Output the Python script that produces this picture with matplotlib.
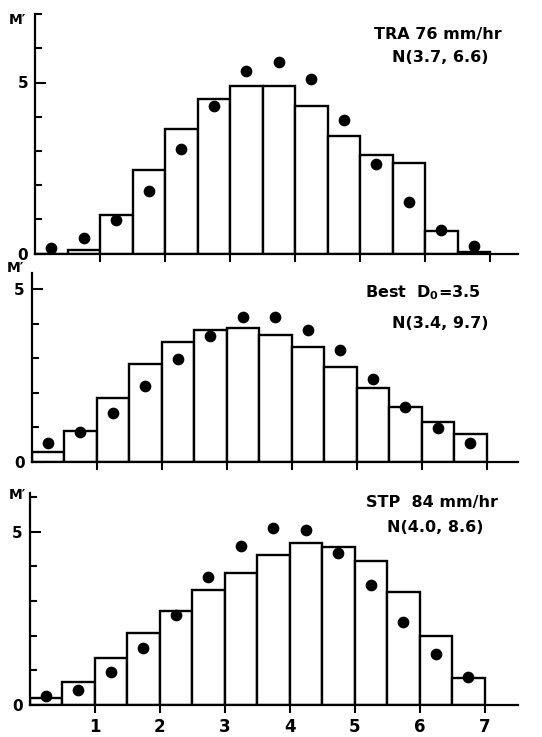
import matplotlib
matplotlib.use('Agg')
import matplotlib.pyplot as plt
import numpy as np

# bin edges (drop diameter, mm) and values
bin_left = np.arange(0, 7, 0.5)
bin_mid = bin_left + 0.25

# TRA 76 mm/hr
tra_bars = [0.0, 0.10, 1.14, 2.45, 3.64, 4.52, 4.91, 4.91, 4.30, 3.45, 2.88, 2.65, 0.67, 0.04]
tra_dots = [0.17, 0.44, 0.97, 1.84, 3.05, 4.32, 5.35, 5.61, 5.11, 3.91, 2.61, 1.52, 0.70, 0.21]

# Best D0 = 3.5
best_bars = [0.27, 0.90, 1.84, 2.83, 3.48, 3.82, 3.87, 3.68, 3.32, 2.74, 2.13, 1.60, 1.16, 0.79]
best_dots = [0.53, 0.85, 1.42, 2.18, 2.98, 3.63, 4.18, 4.19, 3.82, 3.24, 2.39, 1.60, 0.97, 0.53]

# STP 84 mm/hr
stp_bars = [0.19, 0.67, 1.35, 2.07, 2.71, 3.30, 3.80, 4.31, 4.68, 4.54, 4.16, 3.25, 2.00, 0.77]
stp_dots = [0.27, 0.43, 0.94, 1.63, 2.58, 3.68, 4.59, 5.10, 5.03, 4.39, 3.46, 2.40, 1.47, 0.80]

W, H = 542, 737
fig = plt.figure(figsize=(W / 100, H / 100), dpi=100)

# (bars, dots, x0 px, y0 px, px per y unit, y top, label lines, M' position)
panels = [
    (tra_bars, tra_dots, 35, 253.5, 34.2, 7.0,
     [('TRA 76 mm/hr', 438, 35), ('N(3.7, 6.6)', 440, 58)], (17, 20)),
    (best_bars, best_dots, 31.5, 461.7, 34.5, 5.47,
     [('Best  D$_\\mathregular{0}$=3.5', 423, 293), ('N(3.4, 9.7)', 440, 323)], (15, 268)),
    (stp_bars, stp_dots, 29.6, 705, 34.7, 6.1,
     [('STP  84 mm/hr', 432, 503), ('N(4.0, 8.6)', 435, 527)], (17, 495)),
]

x_right = 518
xunit = 65

for i, (bars, dots, x0, y0, yunit, ytop, labels, mpos) in enumerate(panels):
    left = x0 / W
    width = (x_right - x0) / W
    bottom = (H - y0) / H
    height = ytop * yunit / H
    ax = fig.add_axes([left, bottom, width, height])
    ax.set_xlim(0, (x_right - x0) / xunit)
    ax.set_ylim(0, ytop)

    ax.bar(bin_left, bars, width=0.5, align='edge', color='white',
           edgecolor='black', linewidth=1.7, zorder=2)
    ax.scatter(bin_mid, dots, s=55, color='black', zorder=3, clip_on=False)

    for s in ['top', 'right']:
        ax.spines[s].set_visible(False)
    for s in ['left', 'bottom']:
        ax.spines[s].set_linewidth(1.6)
        ax.spines[s].set_zorder(4)

    ax.set_xticks(range(1, 8))
    if i == 2:
        ax.set_xticklabels([str(k) for k in range(1, 8)], fontsize=12, fontweight='bold')
    else:
        ax.set_xticklabels([])
    ax.tick_params(axis='x', direction='out', length=6, width=1.5, pad=3)

    ax.set_yticks([0, 5])
    ax.set_yticklabels(['0', '5'], fontsize=11, fontweight='bold')
    ax.set_yticks([k for k in range(1, int(ytop) + 1) if k != 5], minor=True)
    ax.tick_params(axis='y', which='major', direction='in', length=8, width=1.5, pad=5)
    ax.tick_params(axis='y', which='minor', direction='in', length=5, width=1.5)

    for txt, tx, ty in labels:
        fig.text(tx / W, 1 - ty / H, txt, ha='center', va='center',
                 fontsize=11.5, fontweight='bold')
    fig.text(mpos[0] / W, 1 - mpos[1] / H, 'M\u2032', ha='center', va='center',
             fontsize=10, fontweight='bold')

plt.savefig('out.png', dpi=100)
